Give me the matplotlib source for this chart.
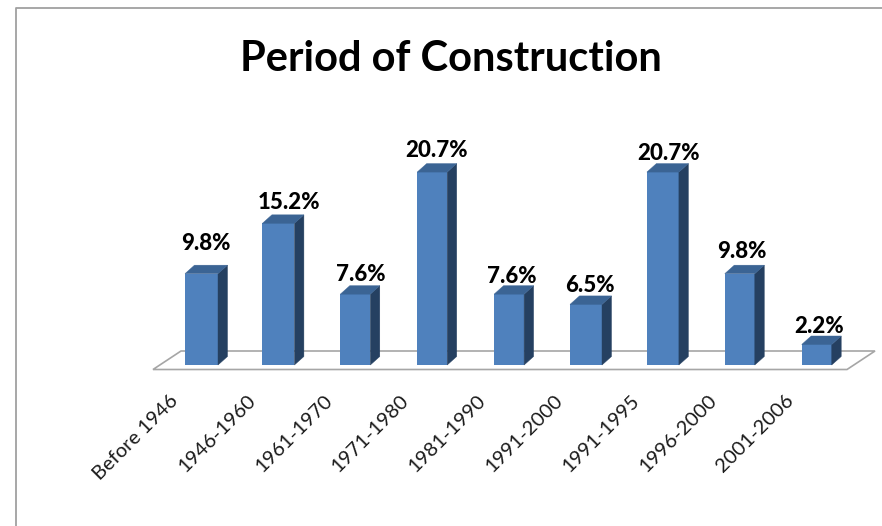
import matplotlib
matplotlib.use('Agg')
import matplotlib.pyplot as plt
from matplotlib.lines import Line2D
from matplotlib.patches import Polygon

categories = ['Before 1946', '1946-1960', '1961-1970', '1971-1980', '1981-1990',
              '1991-2000', '1991-1995', '1996-2000', '2001-2006']
values = [9.8, 15.2, 7.6, 20.7, 7.6, 6.5, 20.7, 9.8, 2.2]

# picture scale: pixels per category and per percent, baseline at pixel row 365
W, H = 882, 526
X0, XS = 201.5, 76.9
Y0, YS = 365, 9.32
# small nudges of the value labels, in pixels (dx, gap above bar top)
label_dx = [4, 11, 6, 4, 3, 4, 6, 2, 2]
label_gap = [30, 21, 20, 22, 18, 19, 19, 22, 17.5]
bar_w = [33, 32, 30, 30, 30, 32, 32, 30, 30]

plt.rcParams['font.family'] = ['Lato', 'DejaVu Sans']
fig = plt.figure(figsize=(W / 100, H / 100), dpi=100)
ax = fig.add_axes([0, 0, 1, 1])
ax.set_xlim(-X0 / XS, (W - X0) / XS)
ax.set_ylim((Y0 - H) / YS, Y0 / YS)
ax.axis('off')

dx = 9.5 / XS
dy = 8.5 / YS

def px(x, y):
    return ((x - X0) / XS, (Y0 - y) / YS)

# window frame, only top and left are visible
fig.add_artist(Line2D([15.5 / W, 15.5 / W, 1], [0, 1 - 8 / H, 1 - 8 / H], color='#a0a0a0', lw=1.3))

# floor of the 3d chart
floor = Polygon([px(153, 369.5), px(181, 351), px(875, 351), px(847, 369.5)],
                closed=True, fc='white', ec='#a6a6a6', lw=1.2, zorder=1)
ax.add_patch(floor)

xs = list(range(len(values)))
for i, v in zip(xs, values):
    w = bar_w[i] / XS
    l, r = i - w / 2, i + w / 2
    ax.bar(i, v, width=w, color='#4f81bd', zorder=3)
    ax.add_patch(Polygon([(r, 0), (r + dx, dy), (r + dx, v + dy), (r, v)], fc='#254061', ec='#254061', lw=0.3, zorder=3))
    ax.add_patch(Polygon([(l, v), (l + dx, v + dy), (r + dx, v + dy), (r, v)], fc='#3b6494', ec='#3b6494', lw=0.3, zorder=3))
    ax.text(i + label_dx[i] / XS, v + label_gap[i] / YS, '%.1f%%' % v, ha='center', va='center',
            fontsize=16, fontweight=900, color='black', zorder=4)
    ax.text(i - 26 / XS, -32.5 / YS, categories[i], ha='right', va='center', rotation=45,
            rotation_mode='anchor', fontsize=14.5, color='#1a1a1a')

ax.text(*px(451, 59), 'Period of Construction', ha='center', va='center',
        fontsize=30, fontweight='bold', color='black')

fig.savefig('out.png', dpi=100)
